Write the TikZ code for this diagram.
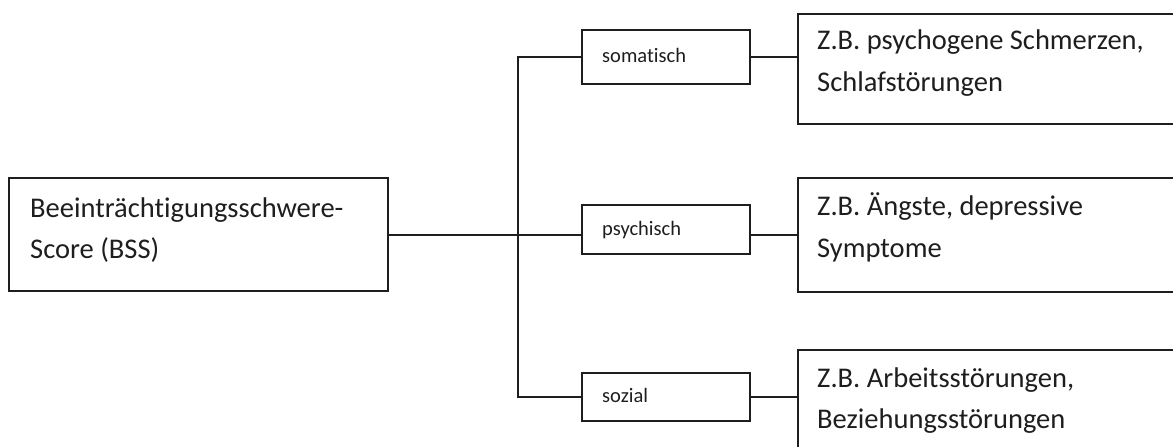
\documentclass[tikz,border=0pt]{standalone}
\usepackage{fontspec}
\setmainfont[Ligatures=NoCommon]{Carlito}
\definecolor{ink}{HTML}{1E1E1E}
\begin{document}
\begin{tikzpicture}[x=1pt,y=-1pt,
  box/.style={draw=ink,line width=1.9pt,rectangle,inner sep=0pt,anchor=north west},
  wire/.style={draw=ink,line width=1.9pt},
  big/.style={font=\fontsize{28.5}{34}\selectfont,text=ink,anchor=base west,inner sep=0pt},
  small/.style={font=\fontsize{20.5}{24}\selectfont,text=ink,anchor=base west,inner sep=0pt}]
\useasboundingbox (0,0) rectangle (1173,447);
\fill[white] (0,0) rectangle (1173,447);
\clip (0,0) rectangle (1173,447);
% main box
\node[box,minimum width=379pt,minimum height=113pt] (bss) at (8,177) {};
\node[big] (bss1) at (30,217) {Beeinträchtigungsschwere-};
\node[big] (bss2) at (30,258) {Score (BSS)};
% middle boxes
\node[box,minimum width=168pt,minimum height=54pt] (som) at (581,29) {};
\node[small] (somt) at (602,62) {somatisch};
\node[box,minimum width=168pt,minimum height=49pt] (psy) at (581,204) {};
\node[small] (psyt) at (602,235) {psychisch};
\node[box,minimum width=168pt,minimum height=48pt] (soz) at (581,372) {};
\node[small] (sozt) at (602,402) {sozial};
% right boxes
\node[box,minimum width=400pt,minimum height=110pt] (r1) at (797,13) {};
\node[big] (r1a) at (817,49) {Z.B. psychogene Schmerzen,};
\node[big] (r1b) at (817,91) {Schlafstörungen};
\node[box,minimum width=400pt,minimum height=114pt] (r2) at (797,177) {};
\node[big] (r2a) at (817,215) {Z.B. Ängste, depressive};
\node[big] (r2b) at (817,257) {Symptome};
\node[box,minimum width=400pt,minimum height=130pt] (r3) at (797,349) {};
\node[big] (r3a) at (817,387) {Z.B. Arbeitsstörungen,};
\node[big] (r3b) at (817,428) {Beziehungsstörungen};
% connectors
\coordinate (jt) at (518,57);
\coordinate (jm) at (518,235);
\coordinate (jb) at (518,397);
\draw[wire] (bss.east |- jm) -- (jm);
\draw[wire] (som.west |- jt) -- (jt) -- (jb) -- (soz.west |- jb);
\draw[wire] (jm) -- (psy.west |- jm);
\draw[wire] (som.east |- jt) -- (r1.west |- jt);
\draw[wire] (psy.east |- jm) -- (r2.west |- jm);
\draw[wire] (soz.east |- jb) -- (r3.west |- jb);
\end{tikzpicture}
\end{document}
